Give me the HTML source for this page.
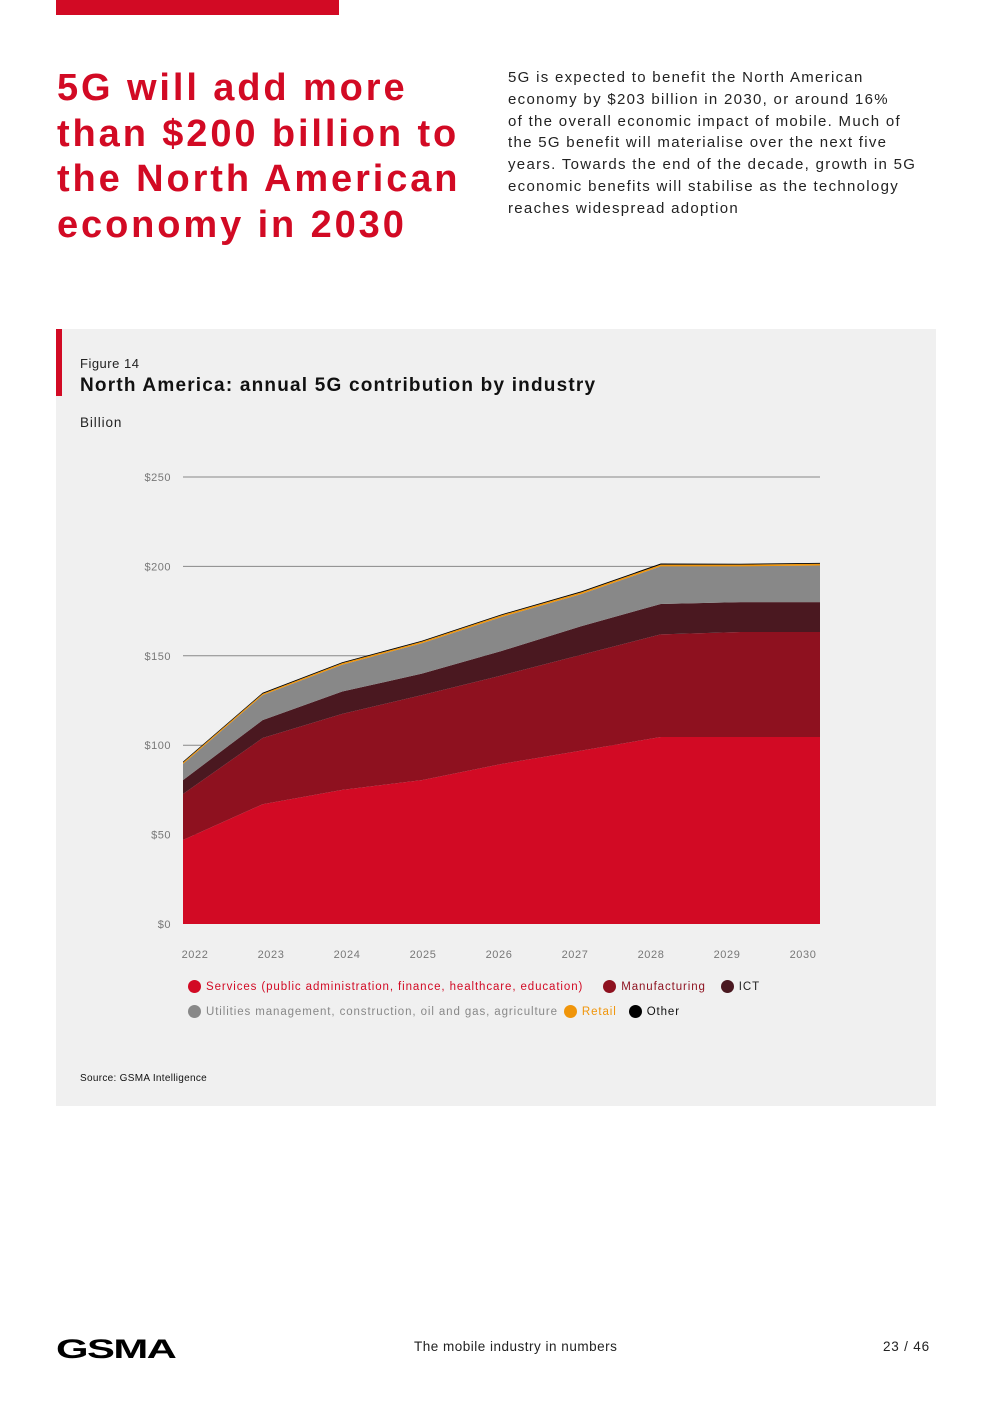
<!DOCTYPE html>
<html><head><meta charset="utf-8">
<style>
body{margin:0;width:992px;height:1403px;background:#fff;font-family:"Liberation Sans",sans-serif;position:relative;overflow:hidden}
.abs{position:absolute}
h1{position:absolute;left:57px;top:66px;margin:0;font-size:38px;line-height:45.5px;color:#d20a24;font-weight:bold;letter-spacing:2.9px;white-space:nowrap}
.intro{left:508px;top:67px;font-size:15px;line-height:21.8px;color:#222;white-space:nowrap;letter-spacing:1.3px}
.panel{left:56px;top:329px;width:880px;height:777px;background:#f0f0f0}
.leg{font-size:11.5px;letter-spacing:0.9px;display:flex;align-items:center}
.dot{width:13px;height:13px;border-radius:50%;display:inline-block;margin-right:5px}
</style></head><body>
<div class="abs" style="left:56px;top:0;width:283px;height:15px;background:#d20a24"></div>
<h1>5G will add more<br>than $200 billion to<br>the North American<br>economy in 2030</h1>
<div class="abs intro">5G is expected to benefit the North American<br>economy by $203 billion in 2030, or around 16%<br>of the overall economic impact of mobile. Much of<br>the 5G benefit will materialise over the next five<br>years. Towards the end of the decade, growth in 5G<br>economic benefits will stabilise as the technology<br>reaches widespread adoption</div>
<div class="abs panel"></div>
<div class="abs" style="left:56px;top:329px;width:6px;height:67px;background:#d20a24"></div>
<div class="abs" style="left:80px;top:356px;font-size:13px;color:#222;letter-spacing:0.5px">Figure 14</div>
<div class="abs" style="left:80px;top:375px;font-size:19px;font-weight:bold;color:#111;letter-spacing:1.2px">North America: annual 5G contribution by industry</div>
<div class="abs" style="left:80px;top:415px;font-size:13.5px;color:#222;letter-spacing:0.9px">Billion</div>
<svg class="abs" id="chart" style="left:0;top:0" width="992" height="1000"></svg>
<div class="abs" style="left:188px;top:980px;width:700px">
 <div class="leg" style="position:absolute;left:0;top:0;white-space:nowrap">
  <span style="color:#d20a24;display:flex;align-items:center"><span class="dot" style="background:#d20a24"></span>Services (public administration, finance, healthcare, education)</span>
  <span style="color:#8e111f;display:flex;align-items:center;margin-left:20px"><span class="dot" style="background:#8e111f"></span>Manufacturing</span>
  <span style="color:#222;display:flex;align-items:center;margin-left:15px"><span class="dot" style="background:#4a1820"></span>ICT</span>
 </div>
 <div class="leg" style="position:absolute;left:0;top:25px;white-space:nowrap">
  <span style="color:#888;display:flex;align-items:center"><span class="dot" style="background:#888"></span>Utilities management, construction, oil and gas, agriculture</span>
  <span style="color:#f0950a;display:flex;align-items:center;margin-left:6px"><span class="dot" style="background:#f0950a"></span>Retail</span>
  <span style="color:#111;display:flex;align-items:center;margin-left:12px"><span class="dot" style="background:#000"></span>Other</span>
 </div>
</div>
<div class="abs" style="left:80px;top:1073px;font-size:10px;color:#111;letter-spacing:0.3px">Source: GSMA Intelligence</div>
<div class="abs" style="left:56px;top:1334px;font-size:27px;font-weight:900;letter-spacing:-1px;color:#000;transform:scaleX(1.55);transform-origin:left">GSMA</div>
<div class="abs" style="left:414px;top:1339px;font-size:13.5px;color:#222;letter-spacing:0.5px">The mobile industry in numbers</div>
<div class="abs" style="left:883px;top:1339px;font-size:13.5px;color:#222;letter-spacing:0.8px">23 / 46</div>
<script>
const years=["2022","2023","2024","2025","2026","2027","2028","2029","2030"];
const services=[47,67,75,80.5,89.5,97,104.6,104.6,104.6];
const manufacturing=[25.7,37,42.5,47.5,49.5,53.5,57.4,58.7,58.7];
const ict=[7.8,10,12.5,12,13.7,16,17,16.7,16.7];
const utilities=[9,14,15,17,19,18,21,20,20.5];
const retail=[0.8,0.8,0.9,0.9,1,1,1,1,1];
const other=[0.5,0.5,0.5,0.5,0.5,0.5,0.6,0.5,0.5];
const yTicks=[0,50,100,150,200,250];
const NS="http://www.w3.org/2000/svg";
const svg=document.getElementById('chart');
const x=i=>183+i*(820-183)/(years.length-1);
const xl=i=>195+i*76;
const y=v=>924-v*(924-477)/250;
function mk(t,a){const e=document.createElementNS(NS,t);for(const k in a)e.setAttribute(k,a[k]);svg.appendChild(e);return e;}
yTicks.forEach(t=>{
 if(t>0){const l=mk('line',{x1:183,x2:820,y1:y(t),y2:y(t),stroke:'#888','stroke-width':1});
 
 }
 const tx=mk('text',{x:171,y:y(t)+4,'text-anchor':'end','font-size':11,fill:'#777','font-family':'Liberation Sans','letter-spacing':'0.5'});
 tx.textContent='$'+t;
 
 
});
years.forEach((yr,i)=>{
 const tx=mk('text',{x:xl(i),y:958,'text-anchor':'middle','font-size':11,fill:'#777','font-family':'Liberation Sans','letter-spacing':'0.6'});
 tx.textContent=yr;
 
 
});
const series=[[services,'#d20a24','services'],[manufacturing,'#8e111f','manufacturing'],[ict,'#4a1820','ict'],[utilities,'#888888','utilities'],[retail,'#f0950a','retail'],[other,'#000000','other']];
let base=years.map(()=>0);
series.forEach(([vals,col,nm])=>{
 const top=base.map((b,i)=>b+vals[i]);
 let d='M'+years.map((_,i)=>x(i)+','+y(top[i])).join(' L');
 for(let i=years.length-1;i>=0;i--)d+=' L'+x(i)+','+y(base[i]);
 const p=mk('path',{d:d+' Z',fill:col});
 
 
 base=top;
});
</script>
</body></html>
